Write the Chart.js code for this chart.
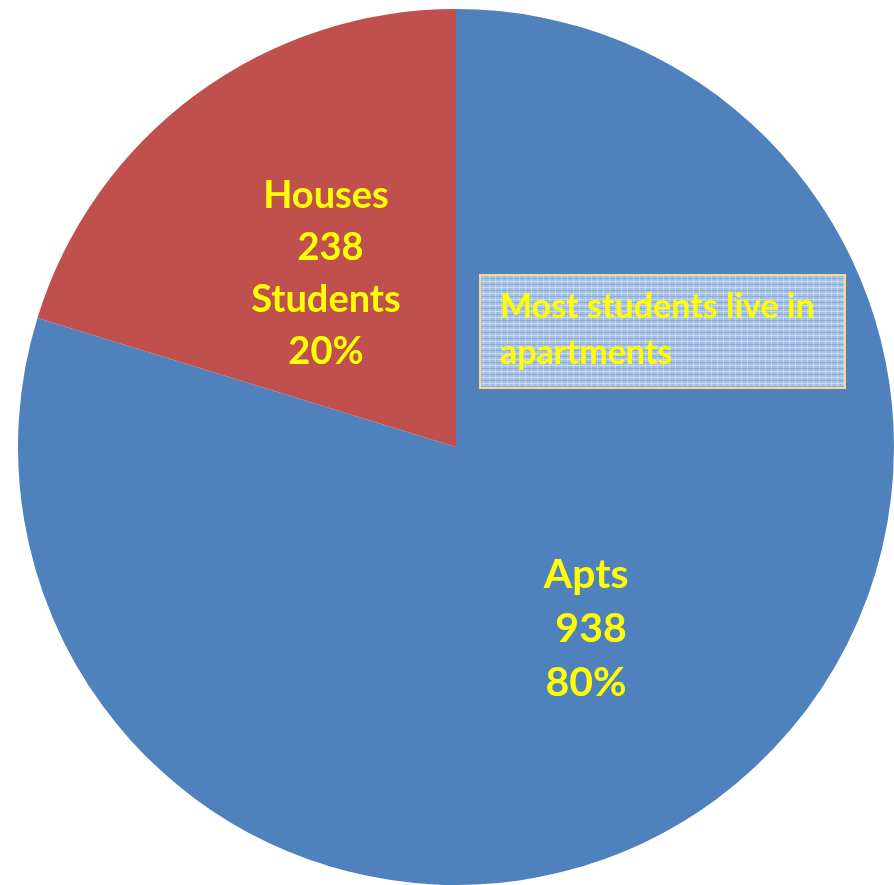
<!DOCTYPE html>
<html>
<head>
<meta charset="utf-8">
<script src="https://cdn.jsdelivr.net/npm/chart.js@4"></script>
<style>
  html, body { margin: 0; padding: 0; background: #fff; overflow: hidden; }
  #wrap { position: absolute; left: 18px; top: 9px; width: 876px; height: 876px; }
</style>
</head>
<body>
<div id="wrap"><canvas id="pieChart" width="876" height="876"></canvas></div>
<script>
    var categories = ['Apts', 'Houses'];
    var counts = [938, 238];
    var percents = ['80%', '20%'];
    var labelLines = [
        ['Apts', ' 938', '80%'],
        ['Houses', ' 238', 'Students', '20%']
    ];
    var noteLines = ['Most students live in', 'apartments'];

    // little grid pattern for the note box
    function makePattern(ctx) {
        var p = document.createElement('canvas');
        p.width = 6; p.height = 6;
        var pc = p.getContext('2d');
        pc.fillStyle = '#a3bfe3';
        pc.fillRect(0, 0, 6, 6);
        pc.fillStyle = '#c9daf0';
        pc.fillRect(0, 2, 6, 1);
        pc.fillRect(3, 0, 1, 6);
        pc.fillStyle = '#8eadd6';
        pc.fillRect(0, 5, 6, 1);
        return ctx.createPattern(p, 'repeat');
    }

    var sliceLabels = {
        id: 'sliceLabels',
        afterDatasetsDraw: function (chart) {
            var ctx = chart.ctx;
            var meta = chart.getDatasetMeta(0);
            ctx.save();
            ctx.fillStyle = '#ffff00';
            ctx.textAlign = 'center';
            ctx.textBaseline = 'middle';
            meta.data.forEach(function (arc, i) {
                var p = arc.getProps(['x', 'y', 'startAngle', 'endAngle', 'outerRadius'], true);
                var mid = (p.startAngle + p.endAngle) / 2;
                var r = p.outerRadius * 0.5;
                var cx = p.x + Math.cos(mid) * r;
                var cy = p.y + Math.sin(mid) * r;
                var lines = labelLines[i];
                var size = i === 0 ? 41 : 38;
                var lh = i === 0 ? 54 : 52;
                var dy = i === 0 ? 6 : 3;
                ctx.font = 'bold ' + size + 'px Lato';
                var top = cy + dy - (lines.length - 1) * lh / 2;
                lines.forEach(function (t, j) {
                    ctx.fillText(t, cx, top + j * lh);
                });
            });

            // note box
            var bx = 462, by = 266, bw = 365, bh = 113;
            ctx.fillStyle = makePattern(ctx);
            ctx.fillRect(bx, by, bw, bh);
            ctx.strokeStyle = '#f6d98a';
            ctx.lineWidth = 2;
            ctx.strokeRect(bx, by, bw, bh);
            ctx.fillStyle = '#ffff00';
            ctx.textAlign = 'left';
            ctx.font = 'bold 34px Lato';
            ctx.fillText(noteLines[0], bx + 20, by + 32);
            ctx.fillText(noteLines[1], bx + 20, by + 78);
            ctx.restore();
        }
    };

    var ctx = document.getElementById('pieChart').getContext('2d');
    var pieChart = new Chart(ctx, {
        type: 'pie',
        data: {
            labels: categories,
            datasets: [{
                data: counts,
                backgroundColor: ['#4f81bd', '#c0504d'],
                borderWidth: 0
            }]
        },
        options: {
            responsive: false,
            animation: false,
            layout: { padding: 0 },
            plugins: {
                legend: { display: false },
                tooltip: { enabled: false }
            }
        },
        plugins: [sliceLabels]
    });
</script>
</body>
</html>
